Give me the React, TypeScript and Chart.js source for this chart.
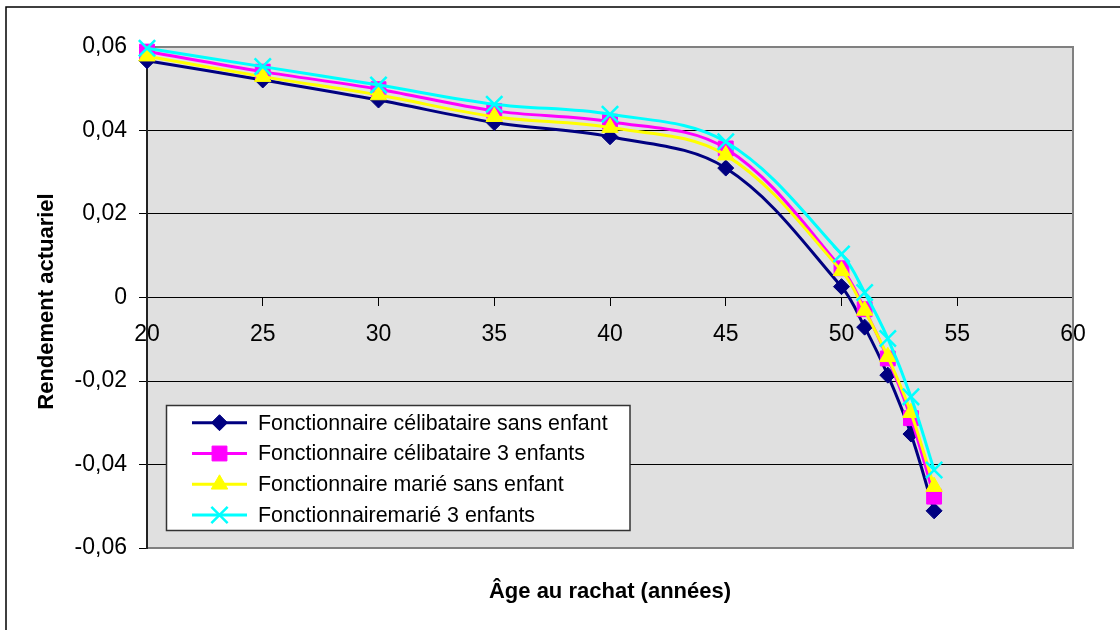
import React, { useEffect, useRef } from "react";
import { Chart, registerables } from "chart.js";
import { drawPoint } from "chart.js/helpers";

Chart.register(...registerables);

const ages = [20, 25, 30, 35, 40, 45, 50, 51, 52, 53, 54];
const celibSansEnfant = [0.0567, 0.0521, 0.0473, 0.0419, 0.0385, 0.031, 0.0026, -0.0071, -0.0186, -0.0327, -0.0511];
const celib3Enfants = [0.0589, 0.0541, 0.0499, 0.0447, 0.0421, 0.0357, 0.007, -0.0028, -0.0146, -0.0289, -0.0477];
const marieSansEnfant = [0.0578, 0.0529, 0.0485, 0.0433, 0.0407, 0.0341, 0.0064, -0.0031, -0.0142, -0.0276, -0.0453];
const marie3Enfants = [0.0597, 0.0553, 0.0509, 0.0463, 0.0439, 0.0373, 0.0104, 0.0012, -0.0098, -0.0238, -0.0413];

const seriesLabels = [
  "Fonctionnaire célibataire sans enfant",
  "Fonctionnaire célibataire 3 enfants",
  "Fonctionnaire marié sans enfant",
  "Fonctionnairemarié 3 enfants",
];
const xTitle = "Âge au rachat (années)";
const yTitle = "Rendement actuariel";

const FONT = '"Liberation Sans", Arial, sans-serif';

export default function App() {
  const ref = useRef<HTMLCanvasElement>(null);

  useEffect(() => {
    const canvas = ref.current!;
    const toPts = (ys: number[]) => ages.map((x, i) => ({ x, y: ys[i] }));
    const styles = [
      { color: "#000080", pointStyle: "rectRot", radius: 8, pbw: 1 },
      { color: "#FF00FF", pointStyle: "rect", radius: 10.5, pbw: 1 },
      { color: "#FFFF00", pointStyle: "triangle", radius: 9.5, pbw: 1 },
      { color: "#00FFFF", pointStyle: "crossRot", radius: 11.5, pbw: 2.5 },
    ];
    const values = [celibSansEnfant, celib3Enfants, marieSansEnfant, marie3Enfants];

    const datasets = values.map((v, i) => ({
      label: seriesLabels[i],
      data: toPts(v),
      borderColor: styles[i].color,
      backgroundColor: styles[i].color,
      pointBackgroundColor: styles[i].color,
      pointBorderColor: styles[i].color,
      pointStyle: styles[i].pointStyle,
      pointRadius: styles[i].radius,
      pointBorderWidth: styles[i].pbw,
      borderWidth: 3,
      tension: 0.35,
      clip: false,
      order: 4 - i,
    }));

    const deco = {
      id: "deco",
      beforeDraw(chart: any) {
        const { ctx, chartArea: a } = chart;
        ctx.save();
        ctx.fillStyle = "#ffffff";
        ctx.fillRect(0, 0, chart.width, chart.height);
        ctx.strokeStyle = "#000000";
        ctx.lineWidth = 1.5;
        ctx.strokeRect(6, 7, chart.width + 20, chart.height + 20);
        ctx.fillStyle = "#E0E0E0";
        ctx.fillRect(a.left, a.top, a.right - a.left, a.bottom - a.top);
        ctx.restore();
      },
      beforeDatasetsDraw(chart: any) {
        const { ctx, chartArea: a } = chart;
        ctx.save();
        ctx.strokeStyle = "#808080";
        ctx.lineWidth = 2;
        ctx.beginPath();
        ctx.moveTo(a.left, a.top);
        ctx.lineTo(a.right, a.top);
        ctx.lineTo(a.right, a.bottom);
        ctx.lineTo(a.left, a.bottom);
        ctx.stroke();
        ctx.strokeStyle = "#222222";
        ctx.beginPath();
        ctx.moveTo(a.left, a.top - 1);
        ctx.lineTo(a.left, a.bottom + 1);
        ctx.stroke();
        ctx.fillStyle = "#000000";
        ctx.font = `bold 22px ${FONT}`;
        ctx.textAlign = "center";
        ctx.textBaseline = "middle";
        ctx.fillText(xTitle, (a.left + a.right) / 2, 592);
        ctx.translate(47, (a.top + a.bottom) / 2 + 4);
        ctx.rotate(-Math.PI / 2);
        ctx.fillText(yTitle, 0, 0);
        ctx.restore();
      },
      afterDraw(chart: any) {
        const { ctx } = chart;
        ctx.save();
        const bx = 166.5, by = 405.5, bw = 463.5, bh = 125;
        ctx.fillStyle = "#ffffff";
        ctx.fillRect(bx, by, bw, bh);
        ctx.strokeStyle = "#333333";
        ctx.lineWidth = 1.5;
        ctx.strokeRect(bx, by, bw, bh);
        ctx.font = `21.4px ${FONT}`;
        ctx.textBaseline = "middle";
        ctx.textAlign = "left";
        seriesLabels.forEach((lab, i) => {
          const y = 422.7 + i * 30.8;
          const s = styles[i];
          ctx.strokeStyle = s.color;
          ctx.lineWidth = 3;
          ctx.beginPath();
          ctx.moveTo(192, y);
          ctx.lineTo(247, y);
          ctx.stroke();
          ctx.fillStyle = s.color;
          ctx.strokeStyle = s.color;
          ctx.lineWidth = s.pbw;
          drawPoint(ctx, { pointStyle: s.pointStyle, radius: s.radius, rotation: 0, borderWidth: s.pbw }, 219.5, y);
          ctx.fillStyle = "#000000";
          ctx.fillText(lab, 258, y + 1);
        });
        ctx.restore();
      },
    };

    const chart = new Chart(canvas, {
      type: "line",
      data: { datasets: datasets as any },
      plugins: [deco],
      options: {
        responsive: false,
        animation: false,
        devicePixelRatio: 1,
        layout: { padding: { left: 0, top: 47, right: 47, bottom: 82 } },
        plugins: { legend: { display: false }, tooltip: { enabled: false } },
        scales: {
          x: {
            type: "linear",
            min: 20,
            max: 60,
            position: { y: 0 } as any,
            ticks: {
              stepSize: 5,
              autoSkip: false,
              color: "#000000",
              font: { family: FONT, size: 23 },
              padding: 15.5,
              maxRotation: 0,
            },
            grid: { drawOnChartArea: false, drawTicks: true, tickLength: 8, tickColor: "#000000", tickWidth: 1 },
            border: { display: true, color: "#000000", width: 1 },
          },
          y: {
            type: "linear",
            min: -0.06,
            max: 0.06,
            afterFit: (s: any) => { s.width = 147; },
            ticks: {
              stepSize: 0.02,
              color: "#000000",
              font: { family: FONT, size: 23 },
              padding: 12,
              callback: (v: any) => {
                const n = Number(v);
                if (Math.abs(n) < 1e-9) return "0";
                return n.toFixed(2).replace(".", ",");
              },
            },
            grid: {
              drawOnChartArea: true,
              color: (c: any) => {
                const v = c.tick ? c.tick.value : 0;
                if (Math.abs(Math.abs(v) - 0.06) < 1e-9 || Math.abs(v) < 1e-9) return "rgba(0,0,0,0)";
                return "#000000";
              },
              lineWidth: 1,
              drawTicks: true,
              tickLength: 8,
              tickColor: "#000000",
            },
            border: { display: false },
          },
        },
      },
    });
    return () => chart.destroy();
  }, []);

  return (
    <div style={{ position: "fixed", left: 0, top: 0, width: 1120, height: 630, background: "#fff" }}>
      <canvas ref={ref} width={1120} height={630} style={{ display: "block", width: 1120, height: 630 }} />
    </div>
  );
}
